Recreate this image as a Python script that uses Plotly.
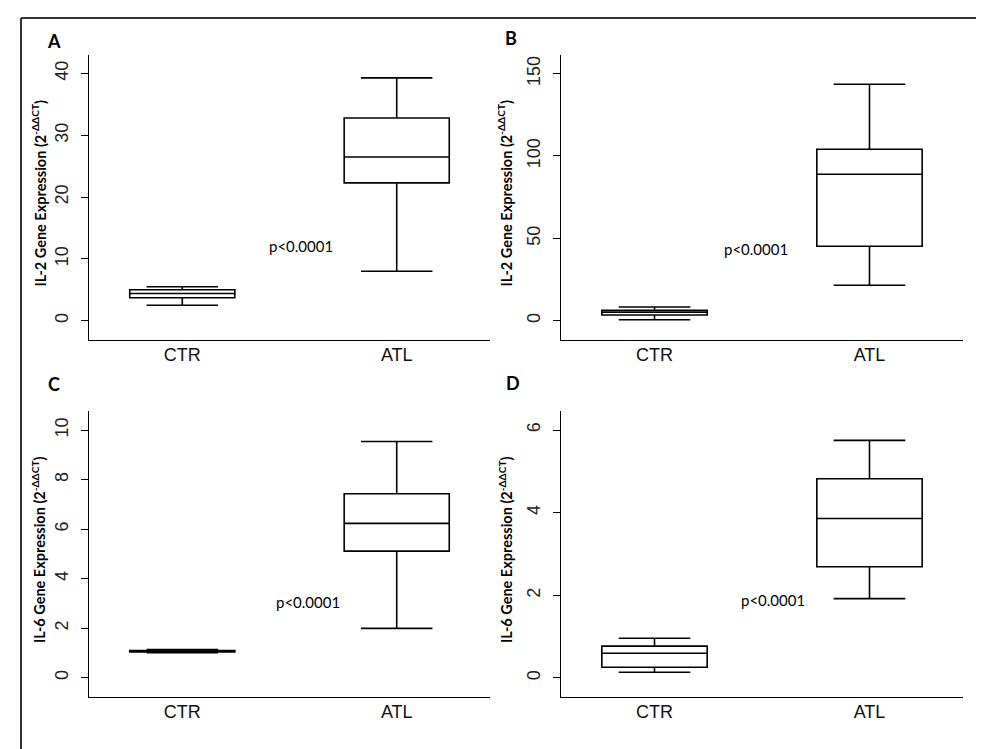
import plotly.graph_objects as go

W, H = 984, 749

categories = ["CTR", "ATL"]

# Panel A: IL-2
a_low = [2.5, 8.0]
a_q1 = [3.7, 22.3]
a_med = [4.4, 26.5]
a_q3 = [5.0, 32.8]
a_high = [5.5, 39.3]

# Panel B: IL-2
b_low = [0.6, 21.5]
b_q1 = [3.5, 45.2]
b_med = [5.1, 88.9]
b_q3 = [6.3, 104.1]
b_high = [8.3, 143.5]

# Panel C: IL-6
c_low = [1.01, 1.99]
c_q1 = [1.04, 5.11]
c_med = [1.07, 6.23]
c_q3 = [1.10, 7.43]
c_high = [1.14, 9.54]

# Panel D: IL-6
d_low = [0.14, 1.92]
d_q1 = [0.26, 2.69]
d_med = [0.60, 3.86]
d_q3 = [0.77, 4.82]
d_high = [0.96, 5.75]

panel_letters = ["A", "B", "C", "D"]
y_titles = [
    "<b>IL-2 Gene Expression (2<sup>-ΔΔCT</sup>)</b>",
    "<b>IL-2 Gene Expression (2<sup>-ΔΔCT</sup>)</b>",
    "<b>IL-6 Gene Expression (2<sup>-ΔΔCT</sup>)</b>",
    "<b>IL-6 Gene Expression (2<sup>-ΔΔCT</sup>)</b>",
]
y_ticks = [[0, 10, 20, 30, 40], [0, 50, 100, 150], [0, 2, 4, 6, 8, 10], [0, 2, 4, 6]]
y_ranges = [[-3.13, 43.0], [-11.7, 161.3], [-0.78, 10.77], [-0.46, 6.46]]
p_text = "p<0.0001"
p_pos = [(0.553, 12.1), (0.47, 43.7), (0.586, 3.07), (0.55, 1.88)]

panels = [
    (a_low, a_q1, a_med, a_q3, a_high),
    (b_low, b_q1, b_med, b_q3, b_high),
    (c_low, c_q1, c_med, c_q3, c_high),
    (d_low, d_q1, d_med, d_q3, d_high),
]

# pixel layout: (left, right, top, bottom)
px = [(81, 482, 47, 332), (553, 955, 47, 332), (81, 482, 403, 689), (553, 955, 403, 689)]
title_x = [31, 497, 30, 497]
letter_pos = [(46, 33), (503, 30), (46, 376), (505, 375)]

fig = go.Figure()
layout = dict(
    width=W, height=H, margin=dict(l=0, r=0, t=0, b=0),
    paper_bgcolor="white", plot_bgcolor="white", showlegend=False,
    boxmode="overlay",
)
annotations = []

for i, (lo, q1, med, q3, hi) in enumerate(panels):
    n = "" if i == 0 else str(i + 1)
    fig.add_trace(go.Box(
        x=[0, 1], lowerfence=lo, q1=q1, median=med, q3=q3, upperfence=hi,
        xaxis="x" + n, yaxis="y" + n,
        width=0.49, whiskerwidth=0.68,
        fillcolor="white", line=dict(color="black", width=1.6),
        boxpoints=False,
    ))
    l, r, t, b = px[i]
    layout["xaxis" + n] = dict(
        domain=[l / W, r / W], anchor="y" + n,
        range=[-0.435, 1.435], tickvals=[0, 1], ticktext=categories,
        showline=True, linecolor="black", linewidth=1.2, ticks="",
        showgrid=False, zeroline=False, ticklabelstandoff=-2,
        tickfont=dict(family="Liberation Sans, Arial", size=18, color="#111"),
    )
    layout["yaxis" + n] = dict(
        domain=[1 - b / H, 1 - t / H], anchor="x" + n,
        range=y_ranges[i], tickvals=y_ticks[i],
        showline=True, linecolor="black", linewidth=1.2,
        ticks="outside", ticklen=7, tickcolor="black", tickwidth=1.2,
        tickangle=-90, showgrid=False, zeroline=False, ticklabelstandoff=6,
        tickfont=dict(family="Liberation Sans, Arial", size=18, color="#222"),
    )
    annotations.append(dict(
        text=y_titles[i], textangle=-90, xref="paper", yref="paper",
        x=title_x[i] / W, y=1 - ((t + b) / 2 - 4) / H, showarrow=False,
        xanchor="center", yanchor="middle",
        font=dict(family="Lato, Open Sans", size=14.5, color="black"),
    ))
    annotations.append(dict(
        text="<b>" + panel_letters[i] + "</b>", xref="paper", yref="paper",
        x=letter_pos[i][0] / W, y=1 - letter_pos[i][1] / H, showarrow=False,
        xanchor="center", yanchor="middle",
        font=dict(family="Lato, Open Sans", size=18, color="black"),
    ))
    annotations.append(dict(
        text=p_text, xref="x" + n, yref="y" + n,
        x=p_pos[i][0], y=p_pos[i][1], showarrow=False,
        xanchor="center", yanchor="middle",
        font=dict(family="Lato, Open Sans", size=15, color="black"),
    ))

layout["annotations"] = annotations
layout["shapes"] = [
    dict(type="line", xref="paper", yref="paper", x0=13 / W, x1=1, y0=1 - 10 / H, y1=1 - 10 / H,
         line=dict(color="#333", width=2)),
    dict(type="line", xref="paper", yref="paper", x0=13 / W, x1=13 / W, y0=0, y1=1 - 10 / H,
         line=dict(color="#333", width=2)),
]
fig.update_layout(**layout)
fig.write_html("out.html")
